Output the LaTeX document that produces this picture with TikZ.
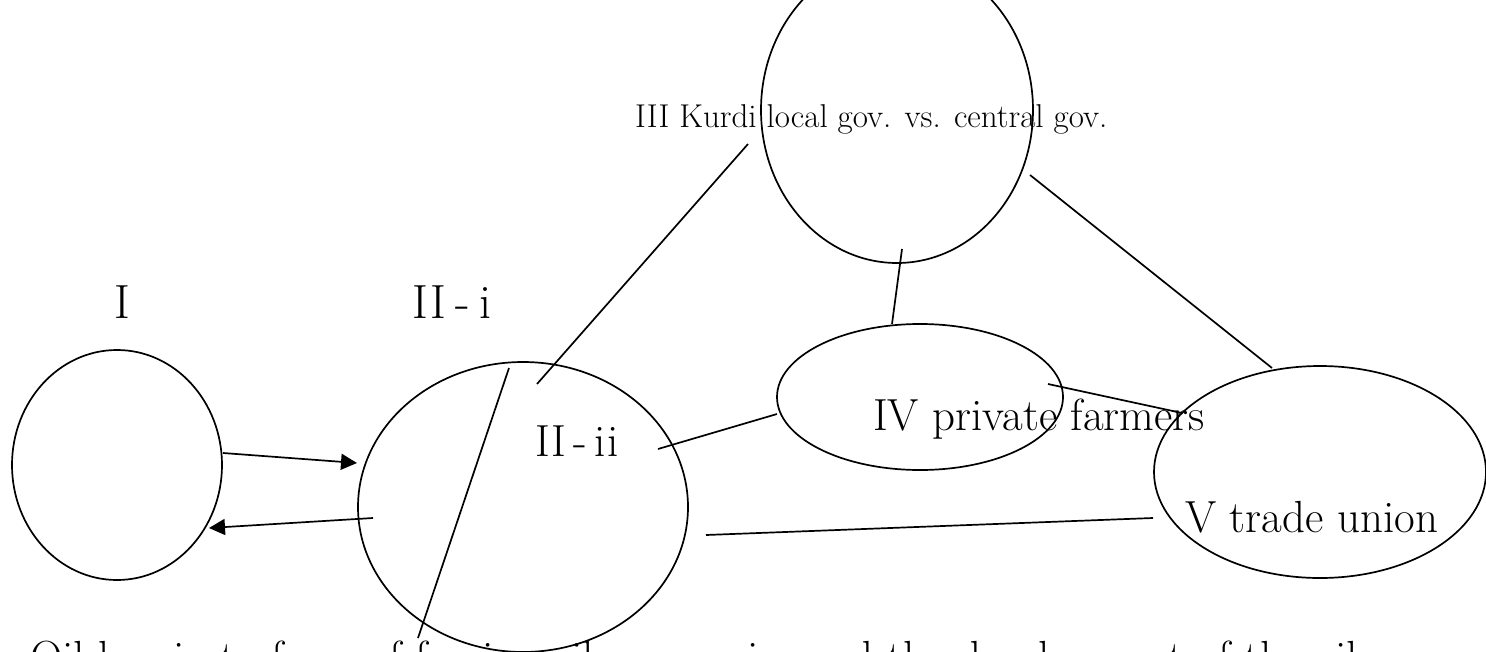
\documentclass[tikz,border=0pt]{standalone}
\usepackage{fontspec}
\usetikzlibrary{shapes.geometric,arrows.meta}
\begin{document}
\begin{tikzpicture}[x=1pt,y=-1pt,
  bubble/.style={ellipse,draw,line width=1.7pt,inner sep=0pt},
  link/.style={line width=1.7pt},
  flow/.style={line width=1.7pt,-{Triangle[length=16pt,width=16pt]}},
  bigtext/.style={inner sep=0pt,anchor=base west,font=\fontsize{45}{54}\selectfont},
  smalltext/.style={inner sep=0pt,anchor=base west,font=\fontsize{33}{40}\selectfont},
  headtext/.style={inner sep=0pt,font=\fontsize{48}{56}\selectfont}]
\useasboundingbox (0,0) rectangle (1486,651);
\clip (0,0) rectangle (1486,651);

% actors
\node[bubble,minimum width=210pt,minimum height=230pt] (one) at (117,465) {};
\node[bubble,minimum width=330pt,minimum height=290pt] (two) at (523,507) {};
\node[bubble,minimum width=272pt,minimum height=306pt] (three) at (897,110) {};
\node[bubble,minimum width=286pt,minimum height=146pt] (four) at (920,397) {};
\node[bubble,minimum width=332pt,minimum height=212pt] (five) at (1320,472) {};

% labels
\node[headtext,anchor=base] (labI) at (122,318) {I};
\node[headtext,anchor=base west] (labIIi) at (412,318) {I\kern3pt I\kern9pt -\kern9pt i};
\node[bigtext] (labIIii) at (535,456) {I\kern2pt I\kern7pt -\kern7pt i\kern2pt i};
\node[smalltext] (labIII) at (635,127) {III Kurdi local gov. vs. central gov.};
\node[bigtext] (labIV) at (873,430) {IV private farmers};
\node[bigtext] (labV) at (1185,532) {V trade union};
\node[bigtext] (caption) at (30,672) {Oil key in to form of foreign oil companies and the development of the oil};

% free ends of the links
\coordinate (a1) at (223,453);  \coordinate (a2) at (357,463);
\coordinate (b1) at (373,518);  \coordinate (b2) at (209,528);
\coordinate (c1) at (537,384);  \coordinate (c2) at (748,144);
\coordinate (d1) at (509,368);  \coordinate (d2) at (418,638);
\coordinate (e1) at (902,249);  \coordinate (e2) at (892,324);
\coordinate (f1) at (1030,175); \coordinate (f2) at (1272,368);
\coordinate (g1) at (1048,384); \coordinate (g2) at (1182,413);
\coordinate (h1) at (658,449);  \coordinate (h2) at (777,414);
\coordinate (k1) at (706,535);  \coordinate (k2) at (1153,518);

% exchanges between I and II
\draw[flow] (a1) -- (a2);
\draw[flow] (b1) -- (b2);

% links
\draw[link] (c1) -- (c2);
\draw[link] (d1) -- (d2);
\draw[link] (e1) -- (e2);
\draw[link] (f1) -- (f2);
\draw[link] (g1) -- (g2);
\draw[link] (h1) -- (h2);
\draw[link] (k1) -- (k2);
\end{tikzpicture}
\end{document}
